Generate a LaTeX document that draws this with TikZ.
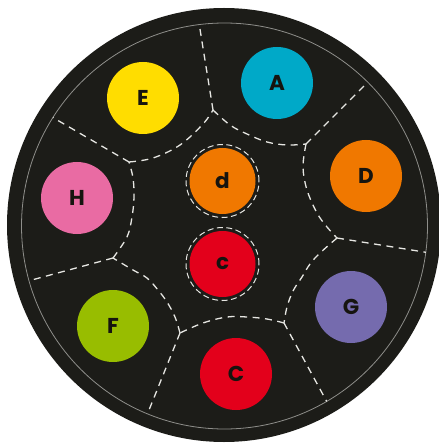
\documentclass[tikz,border=0pt]{standalone}
\usepackage{fontspec}
\setmainfont{Poppins}
\usetikzlibrary{calc}
\definecolor{bg}{HTML}{1C1C18}
\definecolor{rim}{HTML}{8E8E8A}
\definecolor{dashc}{HTML}{E6E6E2}
\definecolor{txt}{HTML}{16140F}
\definecolor{cE}{HTML}{FFDD00}
\definecolor{cA}{HTML}{00A9C8}
\definecolor{cH}{HTML}{E96BA3}
\definecolor{cD}{HTML}{F07800}
\definecolor{cF}{HTML}{98BD00}
\definecolor{cG}{HTML}{756BAE}
\definecolor{cC}{HTML}{E3001B}
\begin{document}
\begin{tikzpicture}[x=1pt,y=-1pt,
  disc/.style={circle, minimum size=72pt, inner sep=0pt, font=\fontsize{21.5}{22}\selectfont\bfseries, text=txt},
  core/.style={circle, minimum size=66pt, inner sep=0pt, font=\fontsize{21.5}{22}\selectfont\bfseries, text=txt},
  ring/.style={draw=dashc, line width=1pt, dash pattern=on 6pt off 3.5pt},
  cell/.style={draw=dashc, line width=1.3pt, dash pattern=on 7pt off 5.5pt}]
\useasboundingbox (0,0) rectangle (438,443);
\coordinate (O) at (224,225);
\coordinate (Oi) at (224.5,226);
\fill[bg] (O) circle (217pt);
\draw[rim, line width=0.8pt] (Oi) circle (203pt);
% junctions
\coordinate (J1) at (213,110);
\coordinate (J2) at (306,144);
\coordinate (J3) at (337,238);
\coordinate (J4) at (284,323);
\coordinate (J5) at (180,333);
\coordinate (J6) at (113,258);
\coordinate (J7) at (129,162);
% rim points
\coordinate (R1) at (199,23);
\coordinate (R2) at (368,82);
\coordinate (R3) at (424,252);
\coordinate (R4) at (327,402);
\coordinate (R5) at (147,415);
\coordinate (R6) at (28,281);
\coordinate (R7) at (52,117);
% curved cell boundaries
\draw[cell] plot[smooth, tension=0.6] coordinates {(129,162) (153,158) (180,145) (203,124) (213,110)};
\draw[cell] plot[smooth, tension=0.6] coordinates {(213,110) (230,125) (247,134) (267,142) (287,145) (306,144)};
\draw[cell] plot[smooth, tension=0.6] coordinates {(306,144) (303,167) (307,190) (317,213) (327,227) (337,238)};
\draw[cell] plot[smooth, tension=0.6] coordinates {(337,238) (320,253) (310,264) (302,277) (293,291) (287,307) (284,323)};
\draw[cell] plot[smooth, tension=0.6] coordinates {(284,323) (267,319) (247,317) (227,317) (203,323) (180,333)};
\draw[cell] plot[smooth, tension=0.6] coordinates {(180,333) (175,317) (167,302) (158,290) (147,278) (133,270) (113,258)};
\draw[cell] plot[smooth, tension=0.6] coordinates {(113,258) (127,237) (132,217) (134,197) (133,178) (129,162)};
% straight spokes
\begin{scope}
\clip (Oi) circle (203pt);
\draw[cell] (J1) -- ($(J1)!1.1!(R1)$);
\draw[cell] (J2) -- ($(J2)!1.1!(R2)$);
\draw[cell] (J3) -- ($(J3)!1.1!(R3)$);
\draw[cell] (J4) -- ($(J4)!1.1!(R4)$);
\draw[cell] (J5) -- ($(J5)!1.1!(R5)$);
\draw[cell] (J6) -- ($(J6)!1.1!(R6)$);
\draw[cell] (J7) -- ($(J7)!1.1!(R7)$);
\end{scope}
% outer discs
\node[disc, fill=cE] (E) at (143,98) {E};
\node[disc, fill=cA] (A) at (277,83) {A};
\node[disc, fill=cH] (H) at (77,198) {H};
\node[disc, fill=cD] (D) at (366,176) {D};
\node[disc, fill=cF] (F) at (113,326) {F};
\node[disc, fill=cG] (G) at (351,307) {G};
\node[disc, fill=cC] (C) at (236,374) {C};
% central discs
\node[core, fill=cD] (d) at (222.5,181) {d};
\node[core, fill=cC] (c) at (222.5,264) {c};
\draw[ring] (d.center) circle (36.5pt);
\draw[ring] (c.center) circle (36.5pt);
\end{tikzpicture}
\end{document}
